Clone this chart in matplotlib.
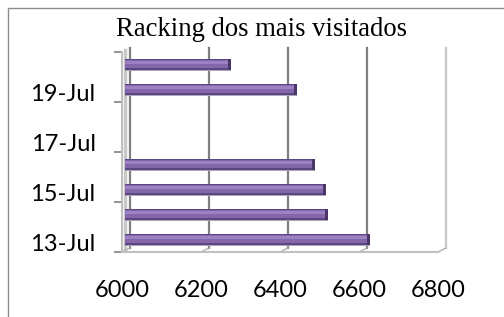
import matplotlib.pyplot as plt
import matplotlib.transforms as mtransforms
from matplotlib.patches import Rectangle

# data
days = [13, 14, 15, 16, 17, 18, 19, 20]
visits = [6620, 6515, 6510, 6482, None, None, 6435, 6268]
tick_days = [13, 15, 17, 19]
tick_labels = ['13-Jul', '15-Jul', '17-Jul', '19-Jul']
x_ticks = [6000, 6200, 6400, 6600, 6800]

W, H = 504, 317
fig = plt.figure(figsize=(W / 100, H / 100), dpi=100)

# outer chart border
fig.patches.append(Rectangle((8 / W, -0.1), 1.2, (H - 8) / H + 0.1, transform=fig.transFigure,
                             fill=False, edgecolor='#8c8c8c', linewidth=1.0))

# front frame of the pseudo 3d plot
left, right, top, bottom = 122, 438, 52, 252
ax = fig.add_axes([left / W, 1 - bottom / H, (right - left) / W, (bottom - top) / H])
ax.set_xlim(6000, 6800)
ax.set_ylim(12.5, 20.5)
ax.patch.set_alpha(0)


def shifted(dx, dy):
    return ax.transData + mtransforms.ScaledTranslation(dx / 100, dy / 100, fig.dpi_scale_trans)


# back wall gridlines
back = shifted(8, 4)
for v in x_ticks:
    col = '#c8c8c8' if v == 6800 else '#7f7f7f'
    ax.plot([v, v], [12.5, 20.5], color=col, linewidth=1.6, transform=back, zorder=1,
            clip_on=False)

# left wall
ax.plot([6000, 6000], [12.5, 20.5], color='#c8c8c8', linewidth=2.5, transform=shifted(3, 2),
        zorder=1, clip_on=False)

# bars (layered to fake the cylinder look)
bar_tr = shifted(3, 0)
bh = 0.42
for d, v in zip(days, visits):
    if v is None:
        continue
    w = v - 6000
    ax.barh(d - 0.06, w, left=6000, height=bh, color='#aaa5b4', linewidth=0,
            transform=bar_tr, zorder=2)
    ax.barh(d, w, left=6000, height=bh, color='#5d4783', linewidth=0,
            transform=bar_tr, zorder=3)
    ax.barh(d + 0.04, w, left=6000, height=bh - 0.1, color='#8467ab', linewidth=0,
            transform=bar_tr, zorder=4)
    ax.barh(d + 0.08, w, left=6000, height=0.11, color='#9c82c2', linewidth=0,
            transform=bar_tr, zorder=5)
    ax.barh(d, 8, left=v - 8, height=bh, color='#4a3768', linewidth=0,
            transform=bar_tr, zorder=6)

# floor hooks from the front axis to the back wall
for v in x_ticks:
    ax.plot([v, v + 20], [12.5, 12.66], color='#b0b0b0', linewidth=1.0, zorder=2, clip_on=False)

for s in ['top', 'right']:
    ax.spines[s].set_visible(False)
ax.spines['left'].set_color('#c0c0c0')
ax.spines['bottom'].set_color('#c0c0c0')
ax.spines['left'].set_linewidth(1.5)
ax.spines['bottom'].set_linewidth(1.5)

ax.set_xticks(x_ticks)
ax.tick_params(axis='x', length=0, pad=20, labelsize=17)
ax.set_yticks(tick_days)
ax.set_yticklabels(tick_labels)
ax.set_yticks([12.5, 14.5, 16.5, 18.5, 20.5], minor=True)
ax.tick_params(axis='y', which='major', length=0, pad=19, labelsize=17)
ax.tick_params(axis='y', which='minor', length=6, color='#7f7f7f', width=1.2)
for lab in ax.get_xticklabels() + ax.get_yticklabels():
    lab.set_fontfamily('Lato')
for lab in ax.get_yticklabels():
    lab.set_transform(lab.get_transform() + mtransforms.ScaledTranslation(0, -0.03, fig.dpi_scale_trans))

fig.text(262 / W, 1 - 29 / H, 'Racking dos mais visitados', ha='center', va='center',
         fontsize=19.2, fontfamily='Liberation Serif')

fig.savefig('out.png', dpi=100)
